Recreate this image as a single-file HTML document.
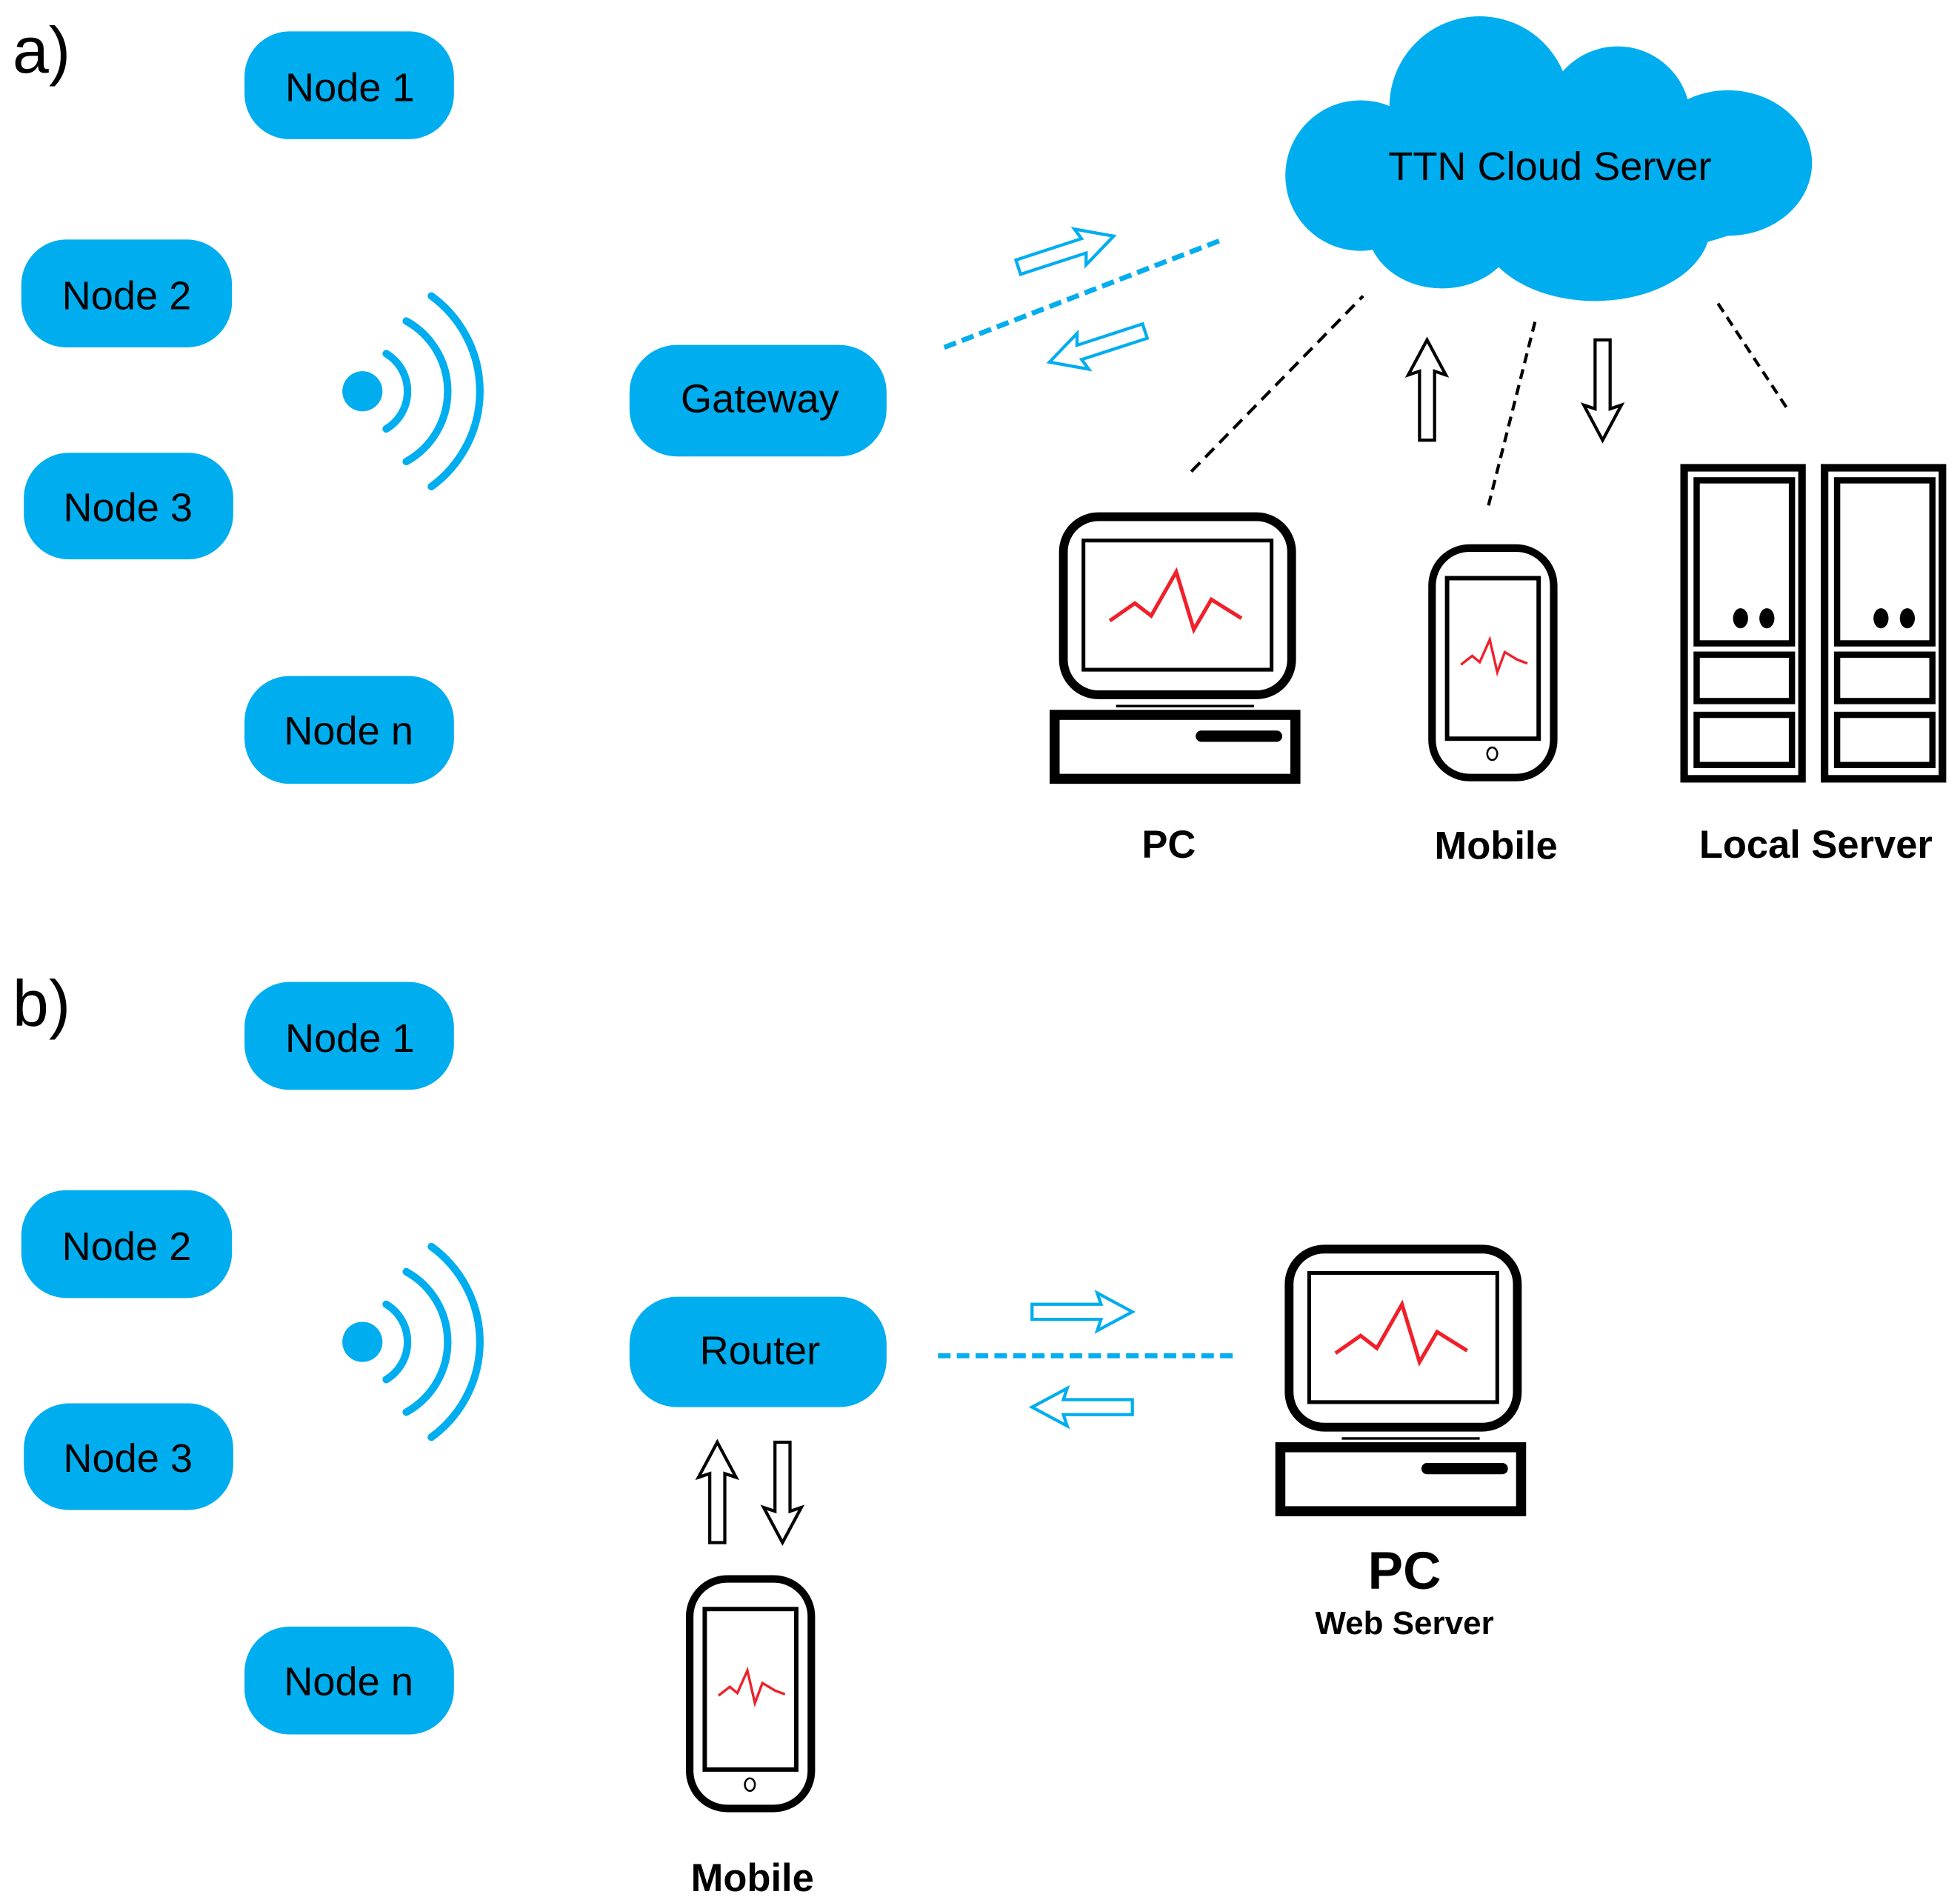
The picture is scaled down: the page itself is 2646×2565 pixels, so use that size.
<!DOCTYPE html>
<html><head><meta charset="utf-8"><style>
html,body{margin:0;padding:0;background:#fff;}
svg{display:block;}
.nt{font-family:"Liberation Sans",sans-serif;font-size:32px;fill:#000;text-anchor:middle;dominant-baseline:central;}
.lb{font-family:"Liberation Sans",sans-serif;font-weight:bold;fill:#000;text-anchor:middle;}
</style></head><body>
<svg width="2646" height="2565" viewBox="0 0 1563 1515" preserveAspectRatio="none" xmlns="http://www.w3.org/2000/svg">
<defs>
<polygon id="arr" points="0,-6 55,-6 52,-15 80,0 52,15 55,6 0,6" fill="#fff" stroke-width="2.5"/>
<g id="nodes">
<rect x="195" y="25" width="167" height="86" rx="36" fill="#00adef"/>
<text class="nt" x="279" y="70">Node 1</text>
<rect x="17" y="191" width="168" height="86" rx="36" fill="#00adef"/>
<text class="nt" x="101" y="236">Node 2</text>
<rect x="19" y="361" width="167" height="85" rx="36" fill="#00adef"/>
<text class="nt" x="102" y="405">Node 3</text>
<rect x="195" y="539" width="167" height="86" rx="36" fill="#00adef"/>
<text class="nt" x="278" y="583">Node n</text>
<circle cx="289" cy="312" r="16" fill="#00adef"/>
<g fill="none" stroke="#00adef" stroke-width="6" stroke-linecap="round">
<path d="M308 282 A35 35 0 0 1 308 342"/>
<path d="M324 256 A64 64 0 0 1 324 368"/>
<path d="M344 236 A94 94 0 0 1 344 388"/>
</g>
</g>
<g id="pc">
<rect x="848" y="412" width="182" height="142" rx="28" fill="#fff" stroke="#000" stroke-width="7"/>
<rect x="864" y="431" width="150" height="103" fill="#fff" stroke="#000" stroke-width="3"/>
<polyline points="885,495 905,481 918,491 938,456 952,502 966,478 990,493" fill="none" stroke="#f0202a" stroke-width="3"/>
<rect x="841" y="570" width="192" height="51" fill="#fff" stroke="#000" stroke-width="8"/>
<line x1="958" y1="587" x2="1018" y2="587" stroke="#000" stroke-width="9" stroke-linecap="round"/>
<line x1="890" y1="563" x2="1000" y2="563" stroke="#000" stroke-width="2"/>
</g>
<g id="mob">
<rect x="1142" y="437" width="97" height="183" rx="30" fill="#fff" stroke="#000" stroke-width="6"/>
<rect x="1154" y="461" width="73" height="128" fill="#fff" stroke="#000" stroke-width="3.5"/>
<polyline points="1165,530 1174,523 1180,528 1188,510 1194,536 1200,520 1210,526 1218,529" fill="none" stroke="#f0202a" stroke-width="2"/>
<ellipse cx="1190" cy="601" rx="4" ry="5" fill="none" stroke="#000" stroke-width="1.5"/>
</g>
<g id="srv">
<rect x="1343" y="373" width="94" height="248" fill="#fff" stroke="#000" stroke-width="6"/>
<rect x="1353" y="383" width="76" height="130" fill="#fff" stroke="#000" stroke-width="5"/>
<rect x="1353" y="522" width="76" height="37" fill="#fff" stroke="#000" stroke-width="5"/>
<rect x="1353" y="570" width="76" height="40" fill="#fff" stroke="#000" stroke-width="5"/>
<ellipse cx="1388" cy="493" rx="6" ry="8" fill="#000"/>
<ellipse cx="1409" cy="493" rx="6" ry="8" fill="#000"/>
</g>
</defs>

<text x="10" y="58" font-family="Liberation Sans,sans-serif" font-size="52" fill="#000">a)</text>
<use href="#nodes"/>
<rect x="502" y="275" width="205" height="89" rx="38" fill="#00adef"/>
<text class="nt" x="606" y="318">Gateway</text>
<line x1="753" y1="277" x2="975" y2="191" stroke="#00adef" stroke-width="4" stroke-dasharray="10,5"/>
<use href="#arr" stroke="#00adef" transform="translate(812,213) rotate(-18)"/>
<use href="#arr" stroke="#00adef" transform="translate(913,264) rotate(162)"/>
<g fill="#00adef">
<ellipse cx="1236" cy="140" rx="200" ry="68"/>
<circle cx="1180" cy="85" r="72"/>
<circle cx="1290" cy="95" r="58"/>
<ellipse cx="1378" cy="130" rx="67" ry="58"/>
<ellipse cx="1085" cy="140" rx="60" ry="60"/>
<ellipse cx="1272" cy="180" rx="92" ry="60"/>
<ellipse cx="1150" cy="180" rx="60" ry="50"/>
</g>
<text class="nt" x="1236" y="133">TTN Cloud Server</text>
<g stroke="#000" stroke-width="2.5" fill="none">
<line x1="950" y1="376" x2="1087" y2="236" stroke-dasharray="10,6"/>
<line x1="1187" y1="403" x2="1225" y2="253" stroke-dasharray="8,5"/>
<line x1="1370" y1="242" x2="1426" y2="327" stroke-dasharray="8,5"/>
</g>
<use href="#arr" stroke="#000" transform="translate(1138,351) rotate(-90)"/>
<use href="#arr" stroke="#000" transform="translate(1278,271) rotate(90)"/>
<use href="#pc"/>
<use href="#mob"/>
<use href="#srv"/>
<use href="#srv" transform="translate(112,0)"/>
<text class="lb" x="932" y="684" font-size="31">PC</text>
<text class="lb" x="1193" y="685" font-size="31">Mobile</text>
<text class="lb" x="1448" y="684" font-size="31">Local Server</text>

<text x="10" y="818" font-family="Liberation Sans,sans-serif" font-size="52" fill="#000">b)</text>
<use href="#nodes" transform="translate(0,758)"/>
<rect x="502" y="1034" width="205" height="88" rx="38" fill="#00adef"/>
<text class="nt" x="606" y="1077" font-size="36">Router</text>
<line x1="748" y1="1081" x2="985" y2="1081" stroke="#00adef" stroke-width="4" stroke-dasharray="10,5"/>
<use href="#arr" stroke="#00adef" transform="translate(823,1046)"/>
<use href="#arr" stroke="#00adef" transform="translate(903,1122) rotate(180)"/>
<use href="#arr" stroke="#000" transform="translate(572,1230) rotate(-90)"/>
<use href="#arr" stroke="#000" transform="translate(624,1150) rotate(90)"/>
<use href="#pc" transform="translate(180,584)"/>
<use href="#mob" transform="translate(-592,822)"/>
<text class="lb" x="1120" y="1267" font-size="42">PC</text>
<text class="lb" x="1120" y="1303" font-size="26">Web Server</text>
<text class="lb" x="600" y="1508" font-size="31">Mobile</text>
</svg>
</body></html>
